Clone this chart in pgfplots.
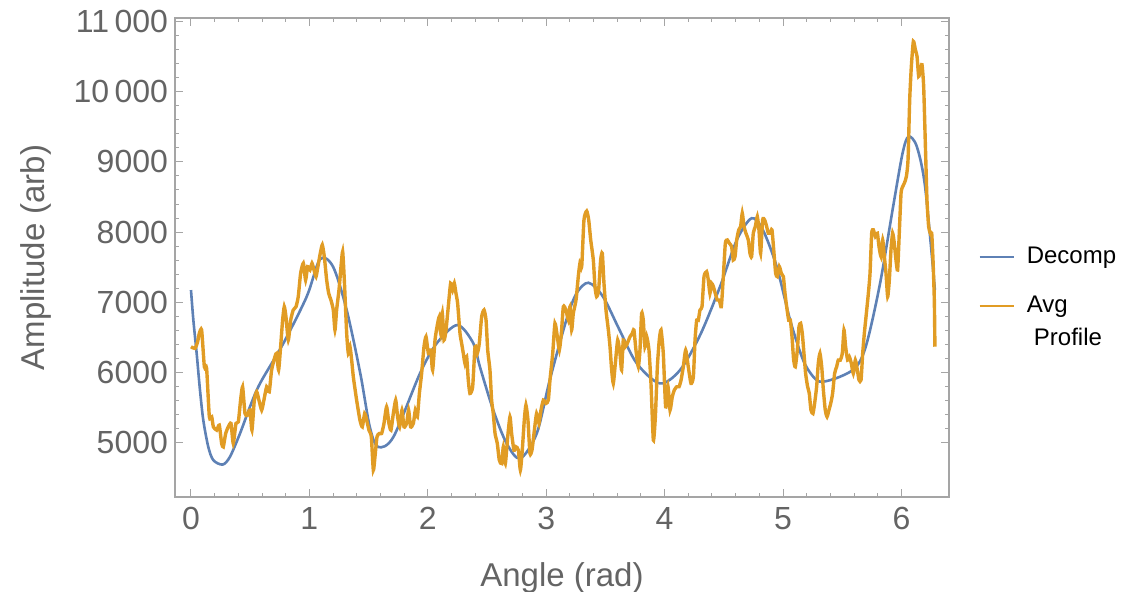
\documentclass[border=0pt]{standalone}
\usepackage{pgfplots}
\pgfplotsset{compat=1.18}
\usepackage{fontspec}
\setmainfont{Liberation Sans}
\definecolor{mblue}{RGB}{94,129,181}
\definecolor{morange}{RGB}{225,156,36}
\definecolor{framegray}{RGB}{165,165,165}
\definecolor{labelgray}{RGB}{100,100,100}

\begin{document}
\begin{tikzpicture}
\useasboundingbox (-87.5pt,-47pt) rectangle (474pt,248.5pt);
\begin{axis}[
 at={(0,0)}, anchor=south west,
 scale only axis, width=387pt, height=239.5pt,
 xmin=-0.135, xmax=6.402, ymin=4230, ymax=11048,
 scaled y ticks=false, scaled x ticks=false,
 xtick={0,1,2,3,4,5,6}, xticklabels={0,1,2,3,4,5,6},
 ytick={5000,6000,7000,8000,9000,10000,11000},
 yticklabels={5000,6000,7000,8000,9000,10\,000,11\,000},
 minor x tick num=4, minor y tick num=4,
 tick align=inside,
 major tick length=4pt, minor tick length=2.2pt,
 every tick/.style={framegray, line width=0.5pt},
 axis line style={framegray, line width=0.6pt},
 ticklabel style={font=\fontsize{16}{19}\selectfont, text=labelgray},
 xticklabel style={yshift=-1.5pt},
 xlabel={Angle (rad)}, ylabel={Amplitude (arb)},
 label style={font=\fontsize{16.5}{20}\selectfont, text=labelgray},
 xlabel style={at={(axis description cs:0.5,-0.168)}, anchor=center},
 ylabel style={at={(axis description cs:-0.18,0.5)}, anchor=center},
 legend style={draw=none, fill=none, at={(axis description cs:1.03,0.541)}, anchor=north west,
   font=\fontsize{12}{16.5}\selectfont, row sep=9.3pt, column sep=4pt,
   nodes={text=black, text height=8.6pt, text depth=2.6pt}},
 legend cell align=left,
 legend image post style={line width=1pt},
]
\addplot[mblue, line width=1.3pt, smooth] table {
0.000 7176
0.020 6749
0.048 6274
0.076 5752
0.104 5324
0.146 4944
0.189 4754
0.268 4692
0.329 4802
0.414 5134
0.498 5514
0.583 5847
0.780 6417
0.977 7081
1.090 7614
1.200 7508
1.315 6891
1.430 5989
1.510 5228
1.580 4943
1.710 5086
1.934 5989
2.075 6417
2.250 6678
2.385 6417
2.440 6084
2.553 5466
2.666 4992
2.780 4778
2.920 5134
3.030 5894
3.170 6749
3.256 7129
3.357 7280
3.480 7081
3.620 6606
3.765 6132
3.960 5847
4.130 6036
4.300 6535
4.468 7223
4.610 7889
4.735 8198
4.830 8032
4.947 7508
5.060 6749
5.170 6179
5.256 5941
5.327 5870
5.480 5941
5.620 6084
5.707 6417
5.820 7272
5.930 8363
6.010 9125
6.060 9361
6.130 9219
6.200 8649
6.283 7176
};
\addlegendentry{Decomp}
\addplot[morange, line width=1.7pt, smooth, tension=0.35] table {
0.000 6369
0.034 6345
0.056 6440
0.070 6559
0.090 6607
0.113 6084
0.132 6060
0.155 5372
0.175 5372
0.189 5229
0.217 5182
0.239 5253
0.259 4992
0.273 4944
0.293 5134
0.315 5229
0.338 5277
0.357 4992
0.380 5277
0.400 5300
0.419 5609
0.436 5799
0.456 5419
0.476 5395
0.498 5467
0.515 5182
0.535 5609
0.555 5728
0.574 5609
0.597 5467
0.616 5609
0.639 5799
0.661 5728
0.681 6037
0.709 6227
0.723 6274
0.740 6037
0.757 6369
0.774 6749
0.788 6939
0.802 6797
0.822 6464
0.842 6749
0.864 6892
0.887 6939
0.906 7082
0.926 7414
0.949 7557
0.968 7319
0.985 7509
1.005 7462
1.022 7557
1.039 7462
1.056 7367
1.072 7509
1.092 7699
1.109 7818
1.126 7652
1.146 7319
1.163 7129
1.182 7034
1.202 6892
1.216 6607
1.230 6892
1.250 7177
1.267 7509
1.281 7723
1.295 7319
1.315 6559
1.329 6274
1.343 6369
1.357 6179
1.371 5942
1.399 5609
1.427 5324
1.447 5229
1.467 5419
1.484 5324
1.503 5182
1.523 5087
1.540 4612
1.554 4802
1.571 5087
1.591 5134
1.610 5134
1.630 5277
1.652 5514
1.672 5277
1.689 5182
1.709 5419
1.729 5609
1.745 5372
1.762 5229
1.782 5467
1.799 5229
1.821 5277
1.838 5467
1.855 5229
1.878 5277
1.895 5467
1.912 5372
1.929 5704
1.948 5989
1.968 6369
1.985 6512
2.005 6274
2.024 6322
2.041 6037
2.061 6464
2.078 6654
2.097 6797
2.109 6559
2.123 6844
2.137 6464
2.154 6607
2.173 6939
2.193 7272
2.210 7177
2.224 7272
2.238 7129
2.252 6987
2.272 6559
2.286 6417
2.300 6274
2.314 6132
2.328 6227
2.342 5894
2.356 5704
2.379 5799
2.399 6369
2.418 6274
2.435 6417
2.455 6797
2.475 6892
2.492 6749
2.506 6322
2.525 6037
2.539 5609
2.553 5419
2.568 5134
2.587 4992
2.604 4754
2.624 4707
2.638 4944
2.655 4707
2.675 5087
2.694 5372
2.708 5134
2.728 4897
2.745 4944
2.765 4897
2.782 4612
2.798 4897
2.815 5324
2.829 5538
2.846 5324
2.863 4849
2.880 4897
2.897 5134
2.919 5419
2.939 5277
2.956 5467
2.976 5609
2.998 5562
3.018 5609
3.032 5894
3.055 6274
3.074 6702
3.094 6512
3.111 6322
3.128 6559
3.145 6939
3.167 6892
3.187 6749
3.201 6939
3.215 6607
3.229 6844
3.252 7034
3.271 7367
3.285 7557
3.300 7509
3.319 8174
3.342 8300
3.359 8174
3.376 7889
3.398 7604
3.412 7224
3.426 7082
3.443 7177
3.460 7604
3.474 7699
3.488 7272
3.505 6892
3.525 6607
3.539 6369
3.553 6037
3.567 5847
3.584 6132
3.604 6464
3.623 6274
3.637 6037
3.651 6464
3.668 6369
3.685 6417
3.708 6512
3.727 6559
3.741 6607
3.758 6322
3.778 6084
3.792 6322
3.806 6844
3.820 6749
3.834 6369
3.849 6512
3.868 6322
3.885 5847
3.905 5039
3.922 5372
3.939 6084
3.955 6464
3.970 6607
3.989 6274
4.009 5514
4.029 5799
4.046 5467
4.065 5657
4.082 5752
4.102 5799
4.122 5799
4.139 5894
4.158 6084
4.178 6322
4.200 6084
4.223 5847
4.243 5942
4.257 6464
4.271 6749
4.285 6749
4.299 6892
4.316 6939
4.333 7367
4.355 7438
4.369 7319
4.383 7129
4.397 7272
4.412 7224
4.428 7129
4.445 7034
4.462 7034
4.479 6939
4.496 7367
4.513 7842
4.530 7889
4.547 7842
4.566 7794
4.580 7604
4.595 7652
4.609 7889
4.626 8032
4.642 8079
4.656 8269
4.671 8079
4.687 7984
4.707 7889
4.721 7699
4.735 7652
4.749 7984
4.766 8079
4.783 8222
4.797 8032
4.811 7699
4.828 8174
4.845 8174
4.862 8079
4.876 7984
4.893 7984
4.907 8032
4.924 7699
4.938 7414
4.952 7367
4.969 7509
4.986 7414
5.003 7367
5.017 7129
5.031 6939
5.048 6749
5.062 6749
5.076 6512
5.090 6179
5.104 6084
5.121 6322
5.135 6654
5.149 6702
5.163 6559
5.177 6274
5.191 5989
5.208 5799
5.222 5704
5.236 5467
5.253 5419
5.267 5562
5.284 5799
5.298 6132
5.312 6274
5.327 6084
5.341 5752
5.357 5467
5.372 5372
5.388 5467
5.403 5562
5.419 5704
5.436 5989
5.453 6084
5.467 6179
5.484 6179
5.501 6274
5.515 6607
5.529 6369
5.546 6179
5.560 6227
5.577 6132
5.594 5989
5.611 6179
5.628 6037
5.642 5894
5.659 5894
5.673 6274
5.687 6559
5.707 6892
5.721 7129
5.735 7414
5.749 7984
5.763 8032
5.780 7937
5.797 7984
5.811 7794
5.828 7652
5.842 7889
5.856 7652
5.870 7414
5.884 7082
5.898 7319
5.912 7747
5.926 7984
5.940 7842
5.954 7604
5.968 7462
5.982 7984
5.997 8554
6.011 8649
6.025 8697
6.042 8792
6.056 9029
6.070 9884
6.084 10359
6.101 10715
6.118 10597
6.132 10502
6.146 10217
6.160 10312
6.174 10383
6.188 10074
6.202 9267
6.216 8459
6.230 8079
6.244 7984
6.256 7984
6.267 7604
6.278 7034
6.283 6369
};
\addlegendentry{\rlap{\smash{\raisebox{-16.5pt}{\hspace{0.3em}Profile}}}Avg}
\end{axis}
\end{tikzpicture}
\end{document}
